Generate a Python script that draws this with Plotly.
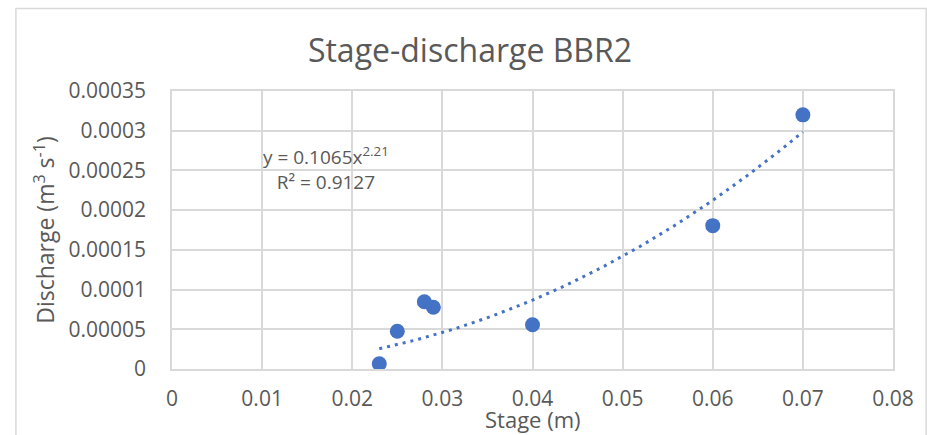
import numpy as np
import plotly.graph_objects as go

# stage (m) vs discharge (m3/s)
stage = [0.023, 0.025, 0.028, 0.029, 0.04, 0.06, 0.07]
discharge = [0.0000067, 0.0000475, 0.0000847, 0.0000777, 0.0000557, 0.0001805, 0.00032]

# power trendline shown in the chart label
coef_a = 0.1065
coef_b = 2.21
r2 = 0.9127

x_ticks = [0, 0.01, 0.02, 0.03, 0.04, 0.05, 0.06, 0.07, 0.08]
x_labels = ["0", "0.01", "0.02", "0.03", "0.04", "0.05", "0.06", "0.07", "0.08"]
y_ticks = [0, 0.00005, 0.0001, 0.00015, 0.0002, 0.00025, 0.0003, 0.00035]
y_labels = ["0", "0.00005", "0.0001", "0.00015", "0.0002", "0.00025", "0.0003", "0.00035"]

blue = "#4472C4"
txt = "#595959"
grid = "#d9d9d9"
font = "Open Sans"

xt = np.linspace(min(stage), max(stage), 120)
yt = coef_a * xt ** coef_b

fig = go.Figure()
fig.add_trace(go.Scatter(x=xt, y=yt, mode="lines",
                         line=dict(color=blue, width=3, dash="3px,5px"),
                         hoverinfo="skip"))
fig.add_trace(go.Scatter(x=stage, y=discharge, mode="markers",
                         marker=dict(color=blue, size=15)))

fig.add_annotation(x=0.0171, y=0.000253, xref="x", yref="y", showarrow=False,
                   text=f"y = {coef_a}x<sup>{coef_b}</sup><br>R² = {r2}",
                   align="center", font=dict(family=font, size=19, color=txt))

# x axis title placed by hand, tucked right under the tick labels
fig.add_annotation(x=0.5, y=-0.18, xref="paper", yref="paper", showarrow=False,
                   text="Stage (m)", xanchor="center", yanchor="middle",
                   font=dict(family=font, size=22, color=txt))

# outer chart frame
fig.add_shape(type="rect", xref="paper", yref="paper",
              x0=-0.2165, x1=1.046, y0=-0.4, y1=1.297,
              line=dict(color=grid, width=1.5), layer="below")

fig.update_layout(
    width=927, height=435,
    margin=dict(l=172, r=34, t=91, b=66),
    paper_bgcolor="white", plot_bgcolor="white",
    showlegend=False,
    font=dict(family=font, color=txt),
    title=dict(text="Stage-discharge BBR2", x=0.507, xanchor="center",
               y=0.883, yanchor="middle",
               font=dict(family=font, size=32, color=txt)),
)
fig.update_xaxes(range=[0, 0.08], tickvals=x_ticks, ticktext=x_labels,
                 showgrid=True, gridcolor=grid, gridwidth=1.5,
                 showline=True, mirror=True, linecolor=grid, linewidth=1.5,
                 zeroline=False, ticks="outside", ticklen=10, tickcolor="rgba(0,0,0,0)",
                 tickfont=dict(family=font, size=21, color=txt))
fig.update_yaxes(range=[0, 0.00035], tickvals=y_ticks, ticktext=y_labels,
                 showgrid=True, gridcolor=grid, gridwidth=1.5,
                 showline=True, mirror=True, linecolor=grid, linewidth=1.5,
                 zeroline=False, ticks="outside", ticklen=20, tickcolor="rgba(0,0,0,0)",
                 tickfont=dict(family=font, size=21, color=txt),
                 title=dict(text="Discharge (m<sup>3</sup> s<sup>-1</sup>)", standoff=7,
                            font=dict(family=font, size=23, color=txt)))

# drop the page's default body margin so the figure sits at the window origin
fig.write_html("out.html", config={"displayModeBar": False},
               post_script="document.body.style.margin='0px';")
